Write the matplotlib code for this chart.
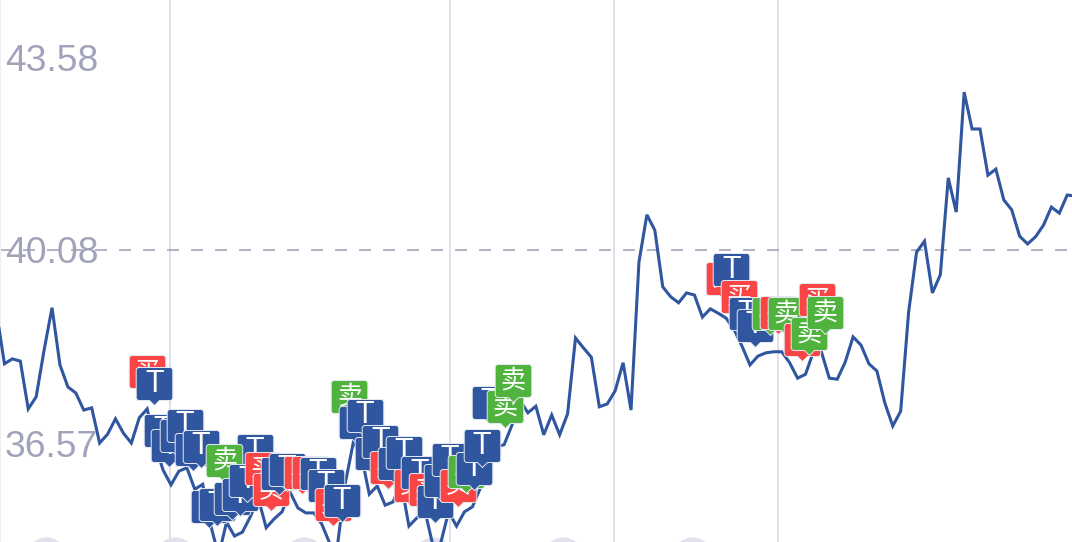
#!/usr/bin/env python3

import matplotlib
matplotlib.use('Agg')
import matplotlib.pyplot as plt
import numpy as np

from matplotlib.path import Path

# line series, one value per time step
price = [38.95, 38.01, 38.10, 38.06, 37.19, 37.41, 38.26, 39.03, 37.99, 37.59,
         37.48, 37.17, 37.21, 36.57, 36.73, 37.01, 36.75, 36.57, 37.03, 37.19,
         36.54, 36.08, 35.81, 36.06, 36.12, 35.73, 35.82, 35.08, 34.52, 35.13,
         34.88, 34.95, 35.23, 35.57, 35.03, 35.19, 35.32, 35.68, 35.39, 35.30,
         35.30, 35.10, 34.75, 34.72, 35.86, 36.59, 36.35, 35.64, 35.79, 35.44,
         35.50, 35.86, 35.06, 35.21, 35.35, 34.72, 34.75, 35.32, 35.06, 35.32,
         35.41, 35.75, 36.12, 36.50, 36.54, 36.90, 37.35, 37.12, 37.24, 36.72,
         37.08, 36.72, 37.10, 38.48, 38.30, 38.13, 37.23, 37.28, 37.52, 38.03,
         37.17, 39.86, 40.72, 40.44, 39.41, 39.23, 39.12, 39.30, 39.26, 38.86,
         39.01, 38.93, 38.84, 38.63, 38.33, 37.99, 38.15, 38.21, 38.23, 38.23,
         38.03, 37.75, 37.82, 38.23, 38.23, 37.75, 37.73, 38.04, 38.50, 38.35,
         38.01, 37.88, 37.30, 36.88, 37.15, 38.95, 40.04, 40.24, 39.30, 39.63,
         41.39, 40.77, 42.95, 42.28, 42.28, 41.44, 41.55, 40.99, 40.81, 40.33,
         40.19, 40.32, 40.53, 40.86, 40.75, 41.08, 41.06]

y_ticks = [43.58, 40.08, 36.57]
y_tick_labels = ['43.58', '40.08', '36.57']
reference_price = 40.08
x_grid = [21.9, 57.2, 77.9, 98.5]

# trade flags, in drawing order
flag_kind = ['买', 'T', 'T', 'T', 'T', 'T', 'T', 'T', 'T', '卖',
             'T', 'T', 'T', 'T', 'T', '买', '买', 'T', 'T', '买',
             '买', 'T', 'T', '买', 'T', '卖', 'T', 'T', 'T', 'T',
             '买', 'T', 'T', '买', 'T', '买', 'T', 'T', 'T', '买',
             '卖', 'T', 'T', 'T', '卖', '卖', '买', 'T', '买', 'T',
             'T', '卖', '买', '卖', '买', '卖', '买', '卖']
flag_x = [18.94, 19.90, 20.91, 21.79, 22.85, 23.77, 24.73, 25.75, 32.60, 28.73,
          26.80, 27.77, 29.70, 30.67, 31.63, 33.64, 34.58, 35.59, 36.60, 38.52,
          39.53, 40.50, 41.51, 42.47, 43.53, 44.49, 45.42, 46.43, 47.44, 48.40,
          49.33, 50.34, 51.35, 52.36, 53.32, 54.29, 55.30, 56.22, 57.19, 58.20,
          59.21, 60.21, 61.22, 62.23, 64.12, 65.09, 91.74, 92.66, 93.63, 94.60,
          95.61, 97.54, 98.55, 99.52, 101.54, 102.46, 103.50, 104.48]
flag_y = [37.48, 37.26, 36.41, 36.13, 36.32, 36.50, 36.06, 36.12, 36.04, 35.86,
          35.03, 35.06, 35.17, 35.24, 35.50, 35.72, 35.33, 35.63, 35.70, 35.64,
          35.64, 35.63, 35.41, 35.06, 35.13, 37.03, 36.55, 36.68, 35.99, 36.21,
          35.73, 35.81, 36.01, 35.41, 35.64, 35.33, 35.12, 35.50, 35.88, 35.41,
          35.66, 35.72, 36.13, 36.92, 36.84, 37.32, 39.17, 39.33, 38.84, 38.53,
          38.32, 38.53, 38.55, 38.53, 38.06, 38.17, 38.79, 38.55]

# faint round shapes cut off by the bottom edge
blob_x = [6.24, 22.5, 38.8, 55.05, 71.4, 87.7]
blob_y = [34.50, 34.50, 34.50, 34.50, 34.50, 34.50]

LINE_COLOR = '#2f569f'
TEXT_COLOR = '#a0a3b9'
FLAG_COLORS = {'T': '#2f569f', '买': '#fb4545', '卖': '#50b33e'}


def flag_marker():
    # tip at (0, 0), units are pixels
    w, b, t, r = 18.3, 5.0, 38.0, 3.0
    verts = [(0, 0), (5, b), (w - r, b), (w, b), (w, b + r), (w, t - r), (w, t), (w - r, t),
             (-w + r, t), (-w, t), (-w, t - r), (-w, b + r), (-w, b), (-w + r, b), (-5, b), (0, 0)]
    codes = [Path.MOVETO, Path.LINETO, Path.LINETO, Path.CURVE3, Path.CURVE3, Path.LINETO,
             Path.CURVE3, Path.CURVE3, Path.LINETO, Path.CURVE3, Path.CURVE3, Path.LINETO,
             Path.CURVE3, Path.CURVE3, Path.LINETO, Path.CLOSEPOLY]
    return Path(verts, codes), 2 * t * 0.72


def main():
    plt.rcParams['lines.scale_dashes'] = False
    fig = plt.figure(figsize=(10.72, 5.42), dpi=100)
    ax = fig.add_axes([0, 0, 1, 1])

    ax.scatter(blob_x, blob_y, s=830, color='#e0e1ea', linewidths=0, zorder=1)
    ax.axhline(reference_price, color='#9c9fb5', lw=1.1, linestyle=(0.7, (8.64, 8.64)), zorder=2)
    ax.plot(np.arange(len(price)), price, color=LINE_COLOR, lw=2.2, solid_joinstyle='miter', zorder=3)

    marker, size = flag_marker()
    for n, (kind, x, y) in enumerate(zip(flag_kind, flag_x, flag_y)):
        z = 4 + n * 0.01
        ax.plot([x], [y], marker=marker, markersize=size, markerfacecolor=FLAG_COLORS[kind],
                markeredgecolor='#e4e9f2', markeredgewidth=0.7, linestyle='none', zorder=z)
        if kind == 'T':
            ax.annotate(kind, (x, y), xytext=(0, 15.5), textcoords='offset points', ha='center',
                        va='center', color='white', fontsize=22, family='Liberation Sans', zorder=z)
        else:
            ax.annotate(kind, (x, y), xytext=(0, 15.5), textcoords='offset points', ha='center',
                        va='center', color='white', fontsize=18,
                        family=['Noto Sans CJK SC', 'DejaVu Sans'], zorder=z)

    ax.set_xlim(0.44, 135.6)
    ax.set_ylim(34.771, 44.625)
    ax.set_xticks(x_grid)
    ax.set_xticklabels([])
    ax.grid(axis='x', color='#dcdde6', lw=1.3)
    ax.set_axisbelow(True)
    ax.set_yticks(y_ticks)
    ax.set_yticklabels(y_tick_labels, family='Liberation Sans', fontsize=26.8, color=TEXT_COLOR, ha='left')
    ax.tick_params(axis='y', length=0, pad=-3.5)
    ax.tick_params(axis='x', length=0)
    for side in ['top', 'right', 'bottom']:
        ax.spines[side].set_visible(False)
    ax.spines['left'].set_color('#eeeef2')

    fig.savefig('out.png', dpi=100)


if __name__ == '__main__':
    main()
